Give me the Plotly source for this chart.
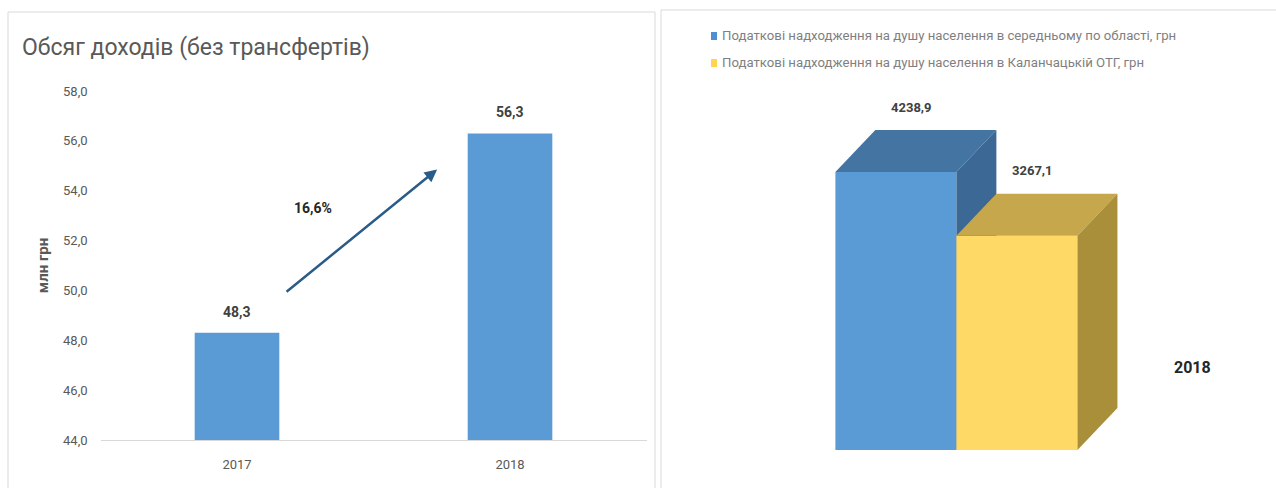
import plotly.graph_objects as go

# ---------------- data ----------------
years = ["2017", "2018"]
revenue = [48.3, 56.3]                      # млн грн
y_ticks = [44, 46, 48, 50, 52, 54, 56, 58]

tax_series = [
    "Податкові надходження на душу населення в середньому по області, грн",
    "Податкові надходження на душу населення в Каланчацькій ОТГ, грн",
]
tax_values = [4238.9, 3267.1]
tax_year = "2018"

# ---------------- styles ----------------
W, H = 1276, 488
BLUE = "#5B9BD5"
front_cols = ["#5B9BD5", "#FFD966"]
legend_cols = ["#4F8FD0", "#FFD54F"]
top_cols = ["#4474A2", "#C7A74B"]
side_cols = ["#3B6894", "#A98F39"]
TXT = "#595959"
FONT = "Roboto"

def fmt(v, d=1):
    return f"{v:.{d}f}".replace(".", ",")

fig = go.Figure()

# ---------- left chart ----------
fig.add_trace(go.Bar(
    x=years, y=revenue, width=0.31, marker=dict(color=BLUE, line=dict(width=0)),
    xaxis="x", yaxis="y", showlegend=False, hoverinfo="x+y"))

annotations = []
for i, v in enumerate(revenue):
    annotations.append(dict(x=i, y=v, xref="x", yref="y", text=f"<b>{fmt(v)}</b>",
                            showarrow=False, yshift=21,
                            font=dict(family=FONT, size=14, color="#404040")))

growth = (revenue[1] / revenue[0] - 1) * 100
annotations.append(dict(x=0.733, y=revenue[1] - 1.45, ax=0.176, ay=revenue[0] + 1.6,
                        xref="x", yref="y", axref="x", ayref="y", text="",
                        showarrow=True, arrowhead=2, arrowsize=1.0, arrowwidth=2.5,
                        arrowcolor="#2B5B88"))
annotations.append(dict(x=0.28, y=(revenue[0] + revenue[1]) / 2 + 1.0, xref="x", yref="y",
                        text=f"<b>{fmt(growth)}%</b>", showarrow=False,
                        font=dict(family=FONT, size=14, color="#262626")))

# ---------- right chart (pseudo-3D bars) ----------
dx = 0.33      # depth offset in x units
dy = 640.0     # depth offset in y units
for i, (name, v) in enumerate(zip(tax_series, tax_values)):
    x0, x1 = i - 0.5, i + 0.5
    faces = [
        ([x0, x1, x1, x0, x0], [0, 0, v, v, 0], front_cols[i]),
        ([x0, x1, x1 + dx, x0 + dx, x0], [v, v, v + dy, v + dy, v], top_cols[i]),
        ([x1, x1 + dx, x1 + dx, x1, x1], [0, dy, v + dy, v, 0], side_cols[i]),
    ]
    for fx, fy, col in faces:
        fig.add_trace(go.Scatter(
            x=fx, y=fy, fill="toself", fillcolor=col, mode="none", line=dict(width=0),
            xaxis="x2", yaxis="y2", showlegend=False, name=name, hoverinfo="skip"))
    annotations.append(dict(x=i + dx * 0.4, y=v + dy, xref="x2", yref="y2",
                            text=f"<b>{fmt(v)}</b>", showarrow=False, yshift=23,
                            font=dict(family=FONT, size=13, color="#404040")))

# manual legend
shapes = []
leg_y = [36, 63]
for i, name in enumerate(tax_series):
    annotations.append(dict(x=720 / W, y=1 - leg_y[i] / H, xref="paper", yref="paper",
                            xanchor="left", yanchor="middle", text=name, showarrow=False,
                            font=dict(family=FONT, size=13.2, color="#7F7F7F")))
    shapes.append(dict(type="rect", xref="paper", yref="paper",
                       x0=711 / W, x1=717 / W, y0=1 - (leg_y[i] + 4) / H,
                       y1=1 - (leg_y[i] - 4) / H, fillcolor=legend_cols[i],
                       line=dict(width=0)))

annotations.append(dict(x=1192 / W, y=1 - 367 / H, xref="paper", yref="paper",
                        xanchor="center", yanchor="middle",
                        text=f"<b>{tax_year}</b>", showarrow=False,
                        font=dict(family=FONT, size=16, color="#262626")))

shapes += [
    dict(type="rect", xref="paper", yref="paper", x0=8 / W, x1=655 / W,
         y0=-0.02, y1=1 - 12 / H, line=dict(color="#D9D9D9", width=1)),
    dict(type="path", xref="paper", yref="paper",
         path=f"M {661 / W},-0.02 L {661 / W},{1 - 10 / H} L 1.01,{1 - 10 / H}",
         line=dict(color="#D9D9D9", width=1)),
]

fig.update_layout(
    width=W, height=H, margin=dict(l=0, r=0, t=0, b=0, autoexpand=False),
    paper_bgcolor="white", plot_bgcolor="rgba(0,0,0,0)",
    separators=", ",
    font=dict(family=FONT, color=TXT),
    title=dict(text="Обсяг доходів (без трансфертів)", x=22 / W, xanchor="left",
               y=1 - 47 / H, yanchor="middle", xref="paper", yref="paper",
               font=dict(family=FONT, size=23, color=TXT)),
    xaxis=dict(domain=[100.5 / W, 646.5 / W], type="category", range=[-0.5, 1.5],
               showline=True, linecolor="#D9D9D9", linewidth=1, ticks="",
               showgrid=False, tickfont=dict(size=13, color=TXT), ticklabelstandoff=12,
               automargin=False, fixedrange=True),
    yaxis=dict(domain=[48 / H, 397 / H], range=[44, 58], tickvals=y_ticks,
               tickformat=".1f", showgrid=False, zeroline=False, showline=False,
               ticks="", ticklabelstandoff=12, tickfont=dict(size=13, color=TXT),
               title=dict(text="<b>млн грн</b>", standoff=10,
                          font=dict(size=15, color=TXT)),
               automargin=False, fixedrange=True),
    xaxis2=dict(domain=[663.5 / W, 1.0], range=[-1.92, 3.14], visible=False,
                automargin=False, fixedrange=True),
    yaxis2=dict(domain=[0, 1], range=[-579.4, 6861.5], visible=False, anchor="x2",
                automargin=False, fixedrange=True),
    showlegend=False,
    annotations=annotations, shapes=shapes,
)

fig.write_html("out.html")
